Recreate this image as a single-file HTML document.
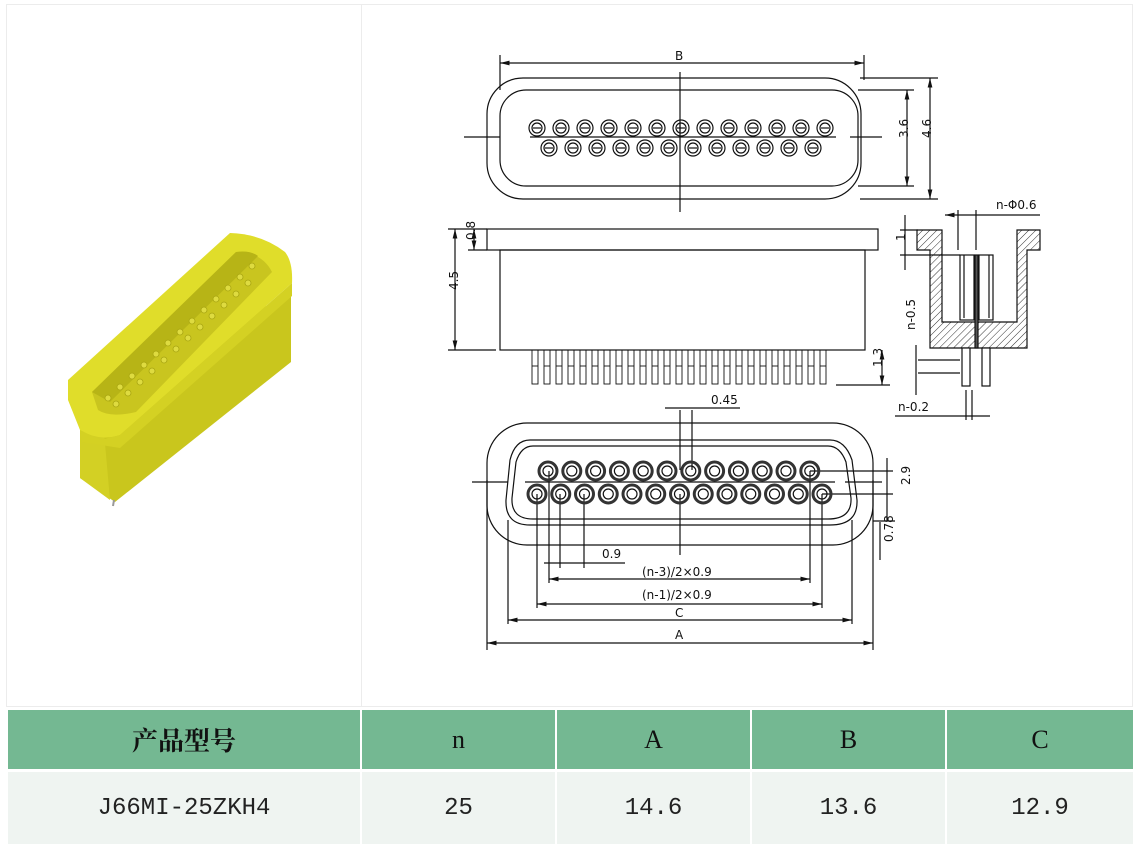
<!DOCTYPE html>
<html><head><meta charset="utf-8">
<style>
html,body{margin:0;padding:0;background:#fff;}
body{width:1133px;height:844px;position:relative;overflow:hidden;font-family:"Liberation Serif","Noto Serif CJK SC",serif;}
.cell{position:absolute;box-sizing:border-box;}
.hd{background:#74b892;color:#111;font-size:26px;display:flex;align-items:center;justify-content:center;}
.dt{background:#eff4f1;color:#222;font-size:24px;display:flex;align-items:center;justify-content:center;font-family:"Liberation Mono","Noto Sans CJK SC",monospace;}
svg text{font-family:"DejaVu Sans","Liberation Sans",sans-serif;font-size:12px;fill:#111;}
</style></head><body>
<div class="cell" style="left:6px;top:4px;width:355px;height:703px;border:1px solid #ececec;border-right:none;"></div>
<div class="cell" style="left:361px;top:4px;width:772px;height:703px;border:1px solid #ececec;"></div>

<svg width="1133" height="844" style="position:absolute;left:0;top:0" xmlns="http://www.w3.org/2000/svg">
<defs>
<pattern id="h" width="5" height="5" patternUnits="userSpaceOnUse" patternTransform="rotate(45)"><line x1="0" y1="0" x2="0" y2="5" stroke="#333" stroke-width="1"/></pattern>
<marker id="a" markerWidth="8" markerHeight="6" refX="8" refY="3" orient="auto-start-reverse"><path d="M0,1 L8,3 L0,5z" fill="#111"/></marker>
</defs>
<!-- yellow connector -->
<g>
<polygon points="80,410 291,292 291,362 115,502 80,478" fill="#c9c61d"/>
<polygon points="80,412 104,432 110,500 80,478" fill="#d3d024"/>
<path d="M68,380 L230,233 Q262,234 285,252 Q293,262 292,283 L120,435 Q100,442 80,430 L68,400 Z" fill="#e0dd2a"/>
<polygon points="80,430 100,440 120,435 292,283 292,296 120,448 82,442" fill="#d4d123"/>
<path d="M92,392 L236,252 Q262,252 272,272 L136,412 Q110,418 98,410 Z" fill="#c9c51f"/>
<path d="M92,392 L236,252 Q250,250 258,256 L110,402 Z" fill="#b7b416"/>
<g fill="#dedb40" stroke="#a9a612" stroke-width="0.8">
<circle cx="108" cy="398" r="3"/><circle cx="120" cy="387" r="3"/><circle cx="132" cy="376" r="3"/><circle cx="144" cy="365" r="3"/><circle cx="156" cy="354" r="3"/><circle cx="168" cy="343" r="3"/><circle cx="180" cy="332" r="3"/><circle cx="192" cy="321" r="3"/><circle cx="204" cy="310" r="3"/><circle cx="216" cy="299" r="3"/><circle cx="228" cy="288" r="3"/><circle cx="240" cy="277" r="3"/><circle cx="252" cy="266" r="3"/>
<circle cx="116" cy="404" r="3"/><circle cx="128" cy="393" r="3"/><circle cx="140" cy="382" r="3"/><circle cx="152" cy="371" r="3"/><circle cx="164" cy="360" r="3"/><circle cx="176" cy="349" r="3"/><circle cx="188" cy="338" r="3"/><circle cx="200" cy="327" r="3"/><circle cx="212" cy="316" r="3"/><circle cx="224" cy="305" r="3"/><circle cx="236" cy="294" r="3"/><circle cx="248" cy="283" r="3"/>
</g>
<line x1="114" y1="500" x2="113" y2="506" stroke="#999" stroke-width="2"/>
</g>
<g fill="none" stroke="#111" stroke-width="1.2">
<!-- top view -->
<rect x="487" y="78" width="374" height="121" rx="36"/>
<rect x="500" y="90" width="358" height="96" rx="26"/>
<line x1="680" y1="72" x2="680" y2="212"/>
<line x1="464" y1="137" x2="500" y2="137"/><line x1="850" y1="137" x2="882" y2="137"/>
<line x1="530" y1="137" x2="836" y2="137"/>
<line x1="500" y1="55" x2="500" y2="90"/><line x1="864" y1="55" x2="864" y2="80"/>
<line x1="500" y1="63" x2="864" y2="63" marker-start="url(#a)" marker-end="url(#a)"/>
<line x1="860" y1="78" x2="938" y2="78"/><line x1="860" y1="199" x2="938" y2="199"/>
<line x1="858" y1="90" x2="914" y2="90"/><line x1="858" y1="186" x2="914" y2="186"/>
<line x1="907" y1="90" x2="907" y2="186" marker-start="url(#a)" marker-end="url(#a)"/>
<line x1="930" y1="78" x2="930" y2="199" marker-start="url(#a)" marker-end="url(#a)"/>
<g id="tp"></g>
<!-- side view -->
<rect x="487" y="229" width="391" height="21"/>
<rect x="500" y="250" width="365" height="100"/>
<line x1="448" y1="229" x2="487" y2="229"/><line x1="448" y1="350" x2="496" y2="350"/>
<line x1="455" y1="229" x2="455" y2="350" marker-start="url(#a)" marker-end="url(#a)"/>
<line x1="474" y1="229" x2="474" y2="250" marker-start="url(#a)" marker-end="url(#a)"/>
<line x1="468" y1="250" x2="487" y2="250"/>
<line x1="836" y1="385" x2="890" y2="385"/>
<line x1="882" y1="350" x2="882" y2="385" marker-start="url(#a)" marker-end="url(#a)"/>
<g id="sp" stroke-width="0.9"></g>
<!-- cross section -->
<path d="M917,230 H942 V322 H1017 V230 H1040 V250 H1027 V348 H930 V250 H917 Z" fill="url(#h)"/>
<rect x="960" y="255" width="14" height="65" fill="#fff"/><rect x="979" y="255" width="14" height="65" fill="#fff"/>
<line x1="964" y1="255" x2="964" y2="318"/><line x1="989" y1="255" x2="989" y2="318"/>
<rect x="975" y="255" width="3" height="93" fill="#555"/>
<rect x="962" y="348" width="8" height="38" fill="#fff"/><rect x="982" y="348" width="8" height="38" fill="#fff"/>
<line x1="958" y1="210" x2="958" y2="250"/><line x1="976" y1="210" x2="976" y2="250"/>
<line x1="945" y1="215" x2="1040" y2="215" marker-start="url(#a)"/>
<line x1="900" y1="230" x2="918" y2="230"/><line x1="900" y1="255" x2="960" y2="255"/>
<line x1="905" y1="215" x2="905" y2="270"/>
<line x1="918" y1="360" x2="960" y2="360"/><line x1="918" y1="373" x2="960" y2="373"/>
<line x1="916" y1="345" x2="916" y2="395"/>
<line x1="966" y1="390" x2="966" y2="420"/><line x1="972" y1="390" x2="972" y2="420"/>
<line x1="895" y1="416" x2="990" y2="416"/>
<!-- bottom view -->
<rect x="487" y="423" width="386" height="122" rx="40"/>
<path d="M530,440 H830 Q845,440 852,460 L857,500 Q858,525 830,525 H530 Q505,525 506,500 L510,460 Q515,440 530,440 Z"/>
<path d="M533,446 H828 Q840,446 846,462 L851,498 Q852,519 828,519 H533 Q511,519 512,498 L516,462 Q521,446 533,446 Z"/>
<line x1="472" y1="482" x2="508" y2="482"/><line x1="525" y1="482" x2="835" y2="482"/><line x1="845" y1="482" x2="882" y2="482"/>
<line x1="680" y1="410" x2="680" y2="470"/><line x1="692" y1="410" x2="692" y2="470"/>
<line x1="665" y1="408" x2="740" y2="408"/>
<line x1="810" y1="471" x2="893" y2="471"/><line x1="822" y1="494" x2="893" y2="494"/>
<line x1="873" y1="521" x2="895" y2="521"/>
<line x1="887" y1="458" x2="887" y2="521"/>
<line x1="880" y1="522" x2="880" y2="560"/>
<line x1="549" y1="471" x2="549" y2="583"/><line x1="560" y1="494" x2="560" y2="568"/><line x1="584" y1="494" x2="584" y2="568"/>
<line x1="537" y1="494" x2="537" y2="608"/><line x1="810" y1="471" x2="810" y2="583"/><line x1="822" y1="494" x2="822" y2="608"/>
<line x1="680" y1="494" x2="680" y2="555"/>
<line x1="508" y1="520" x2="508" y2="624"/><line x1="852" y1="520" x2="852" y2="624"/>
<line x1="487" y1="480" x2="487" y2="650"/><line x1="873" y1="480" x2="873" y2="650"/>
<line x1="544" y1="563" x2="625" y2="563"/>
<line x1="549" y1="579" x2="810" y2="579" marker-start="url(#a)" marker-end="url(#a)"/>
<line x1="537" y1="604" x2="822" y2="604" marker-start="url(#a)" marker-end="url(#a)"/>
<line x1="508" y1="620" x2="852" y2="620" marker-start="url(#a)" marker-end="url(#a)"/>
<line x1="487" y1="643" x2="873" y2="643" marker-start="url(#a)" marker-end="url(#a)"/>
<g id="bp"></g>
</g>
<text x="675" y="60">B</text>
<text x="902" y="144" transform="rotate(-90 902 138)">3.6</text>
<text x="925" y="144" transform="rotate(-90 925 138)">4.6</text>
<text x="452" y="296" transform="rotate(-90 452 290)">4.5</text>
<text x="470" y="245" transform="rotate(-90 470 240)">0.8</text>
<text x="877" y="372" transform="rotate(-90 877 367)">1.3</text>
<text x="900" y="246" transform="rotate(-90 900 241)">1</text>
<text x="908" y="337" transform="rotate(-90 908 330)">n-0.5</text>
<text x="996" y="209">n-Φ0.6</text>
<text x="898" y="411">n-0.2</text>
<text x="711" y="404">0.45</text>
<text x="602" y="558">0.9</text>
<text x="642" y="576">(n-3)/2×0.9</text>
<text x="642" y="599">(n-1)/2×0.9</text>
<text x="675" y="617">C</text>
<text x="675" y="639">A</text>
<text x="903" y="492" transform="rotate(-90 903 485)">2.9</text>
<text x="886" y="549" transform="rotate(-90 886 542)">0.78</text>
</svg>

<div class="cell hd" style="left:8px;top:710px;width:352px;height:59px;font-family:'Noto Serif CJK SC',serif;font-weight:bold;">产品型号</div>
<div class="cell hd" style="left:362px;top:710px;width:193px;height:59px;">n</div>
<div class="cell hd" style="left:557px;top:710px;width:193px;height:59px;">A</div>
<div class="cell hd" style="left:752px;top:710px;width:193px;height:59px;">B</div>
<div class="cell hd" style="left:947px;top:710px;width:186px;height:59px;">C</div>
<div class="cell dt" style="left:8px;top:772px;width:352px;height:72px;">J66MI-25ZKH4</div>
<div class="cell dt" style="left:362px;top:772px;width:193px;height:72px;">25</div>
<div class="cell dt" style="left:557px;top:772px;width:193px;height:72px;">14.6</div>
<div class="cell dt" style="left:752px;top:772px;width:193px;height:72px;">13.6</div>
<div class="cell dt" style="left:947px;top:772px;width:186px;height:72px;">12.9</div>

<script>
var NS="http://www.w3.org/2000/svg";
function el(p,t,a){var e=document.createElementNS(NS,t);for(var k in a)e.setAttribute(k,a[k]);p.appendChild(e);return e;}
var tp=document.getElementById("tp");
for(var i=0;i<13;i++){var x=537+i*24;el(tp,"circle",{cx:x,cy:128,r:8});el(tp,"circle",{cx:x,cy:128,r:5});el(tp,"line",{x1:x-4,y1:128,x2:x+4,y2:128});}
for(var i=0;i<12;i++){var x=549+i*24;el(tp,"circle",{cx:x,cy:148,r:8});el(tp,"circle",{cx:x,cy:148,r:5});el(tp,"line",{x1:x-4,y1:148,x2:x+4,y2:148});}
el(tp,"line",{x1:680,y1:124,x2:680,y2:132});
var sp=document.getElementById("sp");
for(var i=0;i<25;i++){var x=532+i*12;el(sp,"rect",{x:x,y:350,width:6,height:34});el(sp,"line",{x1:x,y1:366,x2:x+6,y2:366});}
var bp=document.getElementById("bp");
for(var i=0;i<12;i++){var x=548+i*23.8;el(bp,"circle",{cx:x,cy:471,r:9,"stroke-width":3,stroke:"#333"});el(bp,"circle",{cx:x,cy:471,r:5});}
for(var i=0;i<13;i++){var x=537+i*23.75;el(bp,"circle",{cx:x,cy:494,r:9,"stroke-width":3,stroke:"#333"});el(bp,"circle",{cx:x,cy:494,r:5});}
</script>
</body></html>
